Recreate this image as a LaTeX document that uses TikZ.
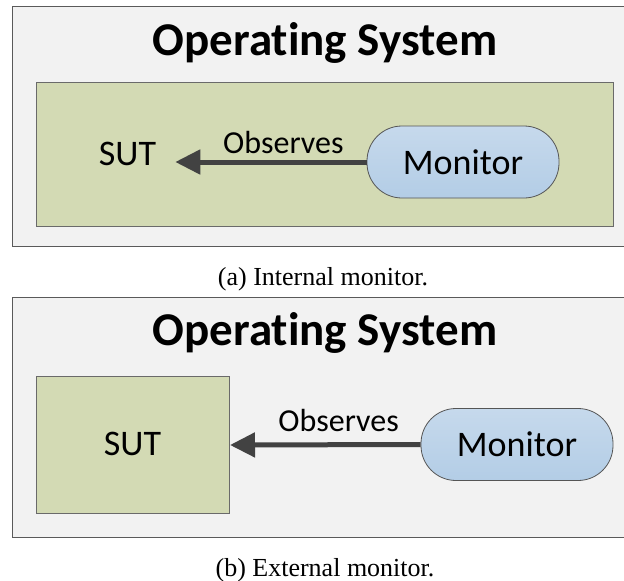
\documentclass[tikz,border=0pt]{standalone}
\usepackage{fontspec}
\setmainfont{Liberation Serif}
\newfontfamily\calfont[Ligatures=NoCommon]{Carlito}
\usetikzlibrary{arrows.meta}

\definecolor{osfill}{HTML}{F2F2F2}
\definecolor{osline}{HTML}{5A5A5A}
\definecolor{sutfill}{HTML}{D3DAB4}
\definecolor{sutline}{HTML}{6A6A6A}
\definecolor{montop}{HTML}{C6D9EC}
\definecolor{monbot}{HTML}{B3CDE6}
\definecolor{monline}{HTML}{555555}
\definecolor{arrowgray}{HTML}{424242}

\tikzset{
  osbox/.style={draw=osline, fill=osfill, line width=1.2pt, rectangle,
    anchor=north west, inner sep=0pt},
  sutbox/.style={draw=sutline, fill=sutfill, line width=1pt, rectangle,
    anchor=north west, inner sep=0pt},
  montag/.style={draw=monline, line width=0.8pt, top color=montop,
    bottom color=monbot, rounded corners=35pt, minimum width=192pt,
    minimum height=72pt, inner sep=0pt,
    font=\calfont\fontsize{36}{43}\selectfont},
  ostitle/.style={anchor=base, inner sep=0pt,
    font=\calfont\bfseries\fontsize{47}{56}\selectfont},
  bigtext/.style={inner sep=0pt, font=\calfont\fontsize{36}{43}\selectfont},
  obslabel/.style={anchor=base, inner sep=0pt,
    font=\calfont\fontsize{32}{38}\selectfont},
  captext/.style={anchor=base, inner sep=0pt, font=\fontsize{26}{31}\selectfont},
  obsarrow/.style={draw=arrowgray, line width=5pt,
    -{Triangle[length=25pt,width=24pt]}},
}

\begin{document}
\begin{tikzpicture}[x=1pt, y=-1pt]
\clip (0,0) rectangle (624,581);

% ---- (a) monitor inside the system under test ----
\node[osbox, minimum width=628pt, minimum height=240pt] (osA) at (12,6) {};
\node[ostitle] (titleA) at (325,55) {Operating System};
\node[sutbox, minimum width=577pt, minimum height=144pt] (areaA) at (36,82) {};
\node[bigtext, anchor=base, inner xsep=19pt] (sutA) at (127.5,165) {SUT};
\node[montag] (monA) at (463,162) {Monitor};
\draw[obsarrow] (monA.west) -- (monA.west -| sutA.east)
  node[obslabel, pos=0.435, yshift=9pt] {Observes};
\node[captext] (capA) at (323,285) {(a) Internal monitor.};

% ---- (b) monitor beside the system under test ----
\node[osbox, minimum width=628pt, minimum height=240pt] (osB) at (12,297) {};
\node[ostitle] (titleB) at (325,345) {Operating System};
\node[sutbox, minimum width=193pt, minimum height=137pt] (sutB) at (36,376) {};
\node[bigtext, anchor=base] (sutBtext) at (132.5,455) {SUT};
\node[montag] (monB) at (517,444.5) {Monitor};
\draw[obsarrow] (monB.west) -- (sutB.east)
  node[obslabel, pos=0.43, yshift=13.5pt] {Observes};
\node[captext] (capB) at (325,576) {(b) External monitor.};
\end{tikzpicture}
\end{document}
